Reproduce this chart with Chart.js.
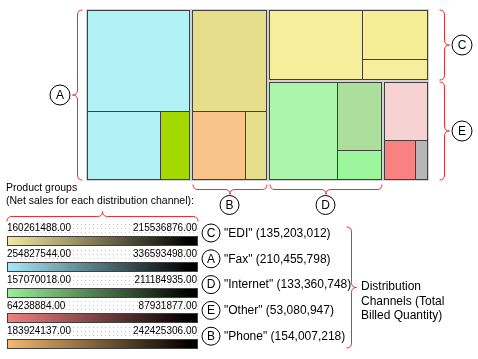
<!DOCTYPE html>
<html>
<head>
<meta charset="utf-8">
<script src="https://cdn.jsdelivr.net/npm/chart.js@4.4.0/dist/chart.umd.min.js"></script>
<style>
  html, body { margin: 0; padding: 0; background: #fff; }
  canvas { display: block; }
</style>
</head>
<body>
<canvas id="chart" width="478" height="359"></canvas>
<script>
// Distribution channels (legend order)
const channelNames = ['EDI', 'Fax', 'Internet', 'Other', 'Phone'];
const channelTotals = [135203012, 210455798, 133360748, 53080947, 154007218];

// Billed quantity of the product groups inside each channel
const groupQuantity = [
    [79100000, 38500000, 17600000],
    [125000000, 59800000, 25700000],
    [80000000, 36800000, 16500000],
    [31200000, 15100000, 6800000],
    [91500000, 43800000, 18700000]
];

// Net sales range labels of each colour scale
const salesMinLabels = ['160261488.00', '254827544.00', '157070018.00', '64238884.00', '183924137.00'];
const salesMaxLabels = ['215536876.00', '336593498.00', '211184935.00', '87931877.00', '242425306.00'];

const headerLines = ['Product groups', '(Net sales for each distribution channel):'];
const sideLines = ['Distribution', 'Channels (Total', 'Billed Quantity)'];

// styles
const cellColors = [
    ['#f6ee9a', '#f6ee96', '#f6ee9c'],
    ['#b0f2f6', '#b0f2f6', '#a4d800'],
    ['#acf6ac', '#acdf9c', '#9cf69c'],
    ['#f6d2d2', '#f88282', '#b6b6b6'],
    ['#e6de8a', '#f8c48a', '#e6de8a']
];
const scaleStartColors = ['#f2e8a0', '#a6e8f8', '#98f098', '#f08080', '#f4b870'];
const TREE_W = 343, TREE_H = 172;
const RED = '#e83030';
const FONT = 'Arial, "Liberation Sans", sans-serif';

// simple treemap: biggest item takes a slice along the longer side, rest recurses
function sliceLayout(items, x, y, w, h, out) {
    if (!items.length) return;
    if (items.length === 1) { out.push({ item: items[0], x, y, w, h }); return; }
    const total = items.reduce((s, it) => s + it.v, 0);
    const f = items[0].v / total;
    if (w >= h) {
        out.push({ item: items[0], x, y, w: w * f, h });
        sliceLayout(items.slice(1), x + w * f, y, w * (1 - f), h, out);
    } else {
        out.push({ item: items[0], x, y, w, h: h * f });
        sliceLayout(items.slice(1), x, y + h * f, w, h * (1 - f), out);
    }
}

const channelItems = channelNames.map((n, i) => ({ v: channelTotals[i], idx: i }))
    .sort((a, b) => b.v - a.v);
const letters = {};
channelItems.forEach((it, r) => { letters[it.idx] = String.fromCharCode(65 + r); });

function hBrace(ctx, a, b, y, d) {
    const m = (a + b) / 2, r = 5;
    ctx.beginPath();
    ctx.moveTo(a, y - d * r);
    ctx.quadraticCurveTo(a, y, a + r, y);
    ctx.lineTo(m - r, y);
    ctx.quadraticCurveTo(m, y, m, y + d * r);
    ctx.quadraticCurveTo(m, y, m + r, y);
    ctx.lineTo(b - r, y);
    ctx.quadraticCurveTo(b, y, b, y - d * r);
    ctx.stroke();
}

function vBrace(ctx, a, b, x, d) {
    const m = (a + b) / 2, r = 5;
    ctx.beginPath();
    ctx.moveTo(x - d * r, a);
    ctx.quadraticCurveTo(x, a, x, a + r);
    ctx.lineTo(x, m - r);
    ctx.quadraticCurveTo(x, m, x + d * r, m);
    ctx.quadraticCurveTo(x, m, x, m + r);
    ctx.lineTo(x, b - r);
    ctx.quadraticCurveTo(x, b, x - d * r, b);
    ctx.stroke();
}

function circleLetter(ctx, x, y, r, letter) {
    ctx.beginPath();
    ctx.arc(x, y, r, 0, Math.PI * 2);
    ctx.fillStyle = '#fff';
    ctx.fill();
    ctx.strokeStyle = '#000';
    ctx.lineWidth = 1;
    ctx.stroke();
    ctx.fillStyle = '#000';
    ctx.font = '12px ' + FONT;
    ctx.textAlign = 'center';
    ctx.textBaseline = 'middle';
    ctx.fillText(letter, x, y + 0.5);
}

const treemapPlugin = {
    id: 'treemapDraw',
    afterDraw(chart) {
        const ctx = chart.ctx;
        const sx = chart.scales.x, sy = chart.scales.y;
        const area = chart.chartArea;
        const X = v => Math.round(sx.getPixelForValue(v));
        const Y = v => Math.round(sy.getPixelForValue(v));

        ctx.save();
        ctx.fillStyle = '#d2d2d2';
        ctx.fillRect(area.left, area.top, area.right - area.left, area.bottom - area.top);

        const chRects = [];
        sliceLayout(channelItems, 0, 0, TREE_W, TREE_H, chRects);

        chRects.forEach(cr => {
            const ci = cr.item.idx;
            const x0 = X(cr.x) + 1, x1 = X(cr.x + cr.w) - 1;
            const y0 = Y(cr.y) + 1, y1 = Y(cr.y + cr.h) - 1;
            ctx.fillStyle = '#404040';
            ctx.fillRect(x0, y0, x1 - x0, y1 - y0);

            const items = groupQuantity[ci].map((v, k) => ({ v, k })).sort((a, b) => b.v - a.v);
            const cells = [];
            sliceLayout(items, cr.x, cr.y, cr.w, cr.h, cells);
            cells.forEach(c => {
                let cx0 = X(c.x) + 1, cx1 = X(c.x + c.w);
                let cy0 = Y(c.y) + 1, cy1 = Y(c.y + c.h);
                cx0 = Math.max(cx0, x0 + 1); cy0 = Math.max(cy0, y0 + 1);
                cx1 = Math.min(cx1, x1 - 1); cy1 = Math.min(cy1, y1 - 1);
                ctx.fillStyle = cellColors[ci][c.item.k];
                ctx.fillRect(cx0, cy0, cx1 - cx0, cy1 - cy0);
            });

            // bracket + letter for the channel
            ctx.strokeStyle = RED;
            ctx.lineWidth = 1;
            const L = letters[ci];
            if (cr.x <= 0.01) {
                vBrace(ctx, y0, y1, area.left - 8.5, -1);
                circleLetter(ctx, area.left - 26, (y0 + y1) / 2, 10, L);
            } else if (cr.x + cr.w >= TREE_W - 0.01) {
                vBrace(ctx, y0, y1, area.right + 15.5, 1);
                circleLetter(ctx, area.right + 33, (y0 + y1) / 2, 10, L);
            } else {
                hBrace(ctx, x0 + 1, x1, area.bottom + 8.5, 1);
                circleLetter(ctx, (x0 + x1) / 2, area.bottom + 24, 9.5, L);
            }
        });

        // legend: header
        ctx.fillStyle = '#000';
        ctx.textAlign = 'left';
        ctx.textBaseline = 'middle';
        ctx.font = '10.5px ' + FONT;
        headerLines.forEach((t, i) => ctx.fillText(t, 6, 188 + i * 13));
        ctx.strokeStyle = RED;
        hBrace(ctx, 7, 198, 216.5, -1);

        // legend rows
        channelNames.forEach((name, i) => {
            const top = 222 + i * 25.8;
            // dotted background
            ctx.fillStyle = '#c8c8c8';
            for (let dx = 9; dx < 198; dx += 4) {
                for (let dy = 2; dy < 13; dy += 4) ctx.fillRect(dx, Math.round(top + dy), 1, 1);
            }
            ctx.fillStyle = '#000';
            ctx.font = '10px ' + FONT;
            ctx.textBaseline = 'middle';
            ctx.textAlign = 'left';
            ctx.fillText(salesMinLabels[i], 7, top + 6.5);
            ctx.textAlign = 'right';
            ctx.fillText(salesMaxLabels[i], 197, top + 6.5);

            const by = Math.round(top + 14);
            const g = ctx.createLinearGradient(8, 0, 190, 0);
            g.addColorStop(0, scaleStartColors[i]);
            g.addColorStop(1, '#000');
            ctx.fillStyle = g;
            ctx.fillRect(7, by, 191, 10);
            ctx.strokeStyle = '#404040';
            ctx.strokeRect(7.5, by + 0.5, 190, 9);

            circleLetter(ctx, 211, top + 11, 9, letters[i]);
            ctx.fillStyle = '#000';
            ctx.font = '12px ' + FONT;
            ctx.textAlign = 'left';
            ctx.fillText('"' + name + '" (' + channelTotals[i].toLocaleString('en-US') + ')', 224, top + 11.5);
        });

        ctx.strokeStyle = RED;
        vBrace(ctx, 227, 348, 351.5, 1);
        ctx.fillStyle = '#000';
        ctx.font = '12px ' + FONT;
        ctx.textAlign = 'left';
        sideLines.forEach((t, i) => ctx.fillText(t, 361, 287 + i * 14.5));
        ctx.restore();
    }
};

new Chart(document.getElementById('chart'), {
    type: 'scatter',
    data: { datasets: [] },
    options: {
        responsive: false,
        animation: false,
        layout: { padding: { left: 86, top: 9, right: 49, bottom: 178 } },
        plugins: { legend: { display: false }, tooltip: { enabled: false } },
        scales: {
            x: { type: 'linear', display: false, min: 0, max: TREE_W },
            y: { type: 'linear', display: false, min: 0, max: TREE_H, reverse: true }
        }
    },
    plugins: [treemapPlugin]
});
</script>
</body>
</html>
